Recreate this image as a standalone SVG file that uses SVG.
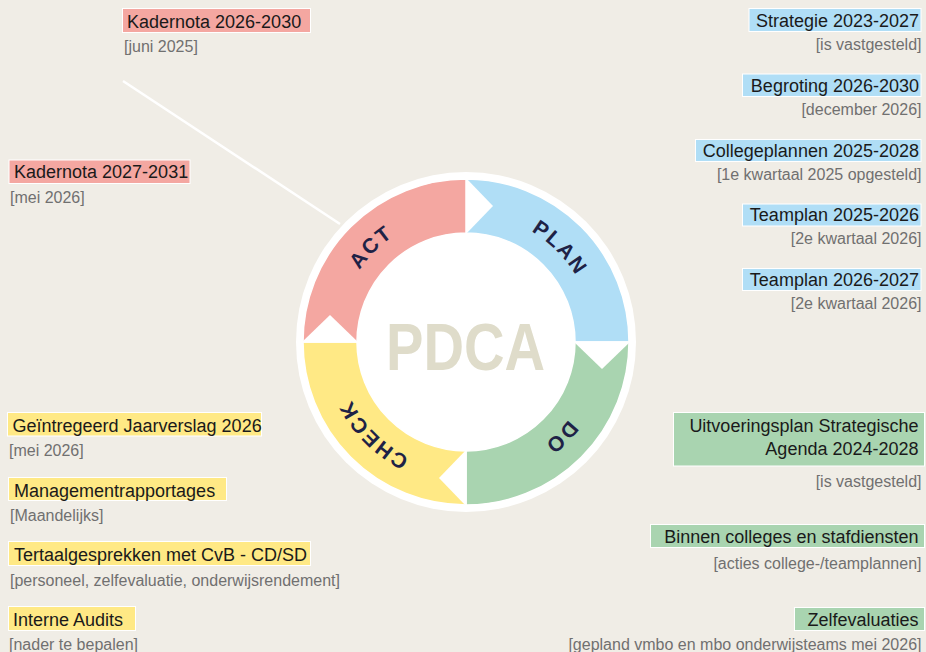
<svg xmlns="http://www.w3.org/2000/svg" width="926" height="652" viewBox="0 0 926 652">
<defs>
<style>
.t{font-family:"Liberation Sans",Arial,sans-serif;font-size:18px;fill:#1a1a1a}
.s{font-family:"Liberation Sans",Arial,sans-serif;font-size:16px;fill:#707070}
.e{text-anchor:end}
.bx{stroke:#ffffff;stroke-width:1}
.pink{fill:#F4A7A1}
.blue{fill:#B0DEF6}
.green{fill:#A9D4B0}
.yellow{fill:#FFE985}
.seg{stroke:#ffffff;stroke-width:1.5}
.ring{font-family:"Liberation Sans",Arial,sans-serif;font-weight:bold;font-size:21px;fill:#1E2246;letter-spacing:2px}
</style>
<path id="arc" d="M 466,213.5 A 128.5 128.5 0 0 1 466,470.5 A 128.5 128.5 0 0 1 466,213.5"/>
</defs>
<rect width="926" height="652" fill="#F0EDE6"/>

<g id="connectors">
<line x1="123" y1="81" x2="340" y2="224" stroke="#ffffff" stroke-width="2.5"/>
</g>

<g id="pdca-cycle">
<circle cx="466" cy="342" r="170" fill="#ffffff"/>
<g id="plan">
<path class="seg blue" d="M 466,179 A 163 163 0 0 1 629,342 L 575,342 A 109 109 0 0 0 466,233 Z"/>
<text class="ring" text-anchor="middle"><textPath href="#arc" startOffset="12.5%">PLAN</textPath></text>
</g>
<g id="do">
<path class="seg green" d="M 629,342 A 163 163 0 0 1 466,505 L 466,451 A 109 109 0 0 0 575,342 Z"/>
<text class="ring" text-anchor="middle"><textPath href="#arc" startOffset="37.5%">DO</textPath></text>
</g>
<g id="check">
<path class="seg yellow" d="M 466,505 A 163 163 0 0 1 303,342 L 357,342 A 109 109 0 0 0 466,451 Z"/>
<text class="ring" text-anchor="middle"><textPath href="#arc" startOffset="62.5%">CHECK</textPath></text>
</g>
<g id="act">
<path class="seg pink" d="M 303,342 A 163 163 0 0 1 466,179 L 466,233 A 109 109 0 0 0 357,342 Z"/>
<text class="ring" text-anchor="middle"><textPath href="#arc" startOffset="87.5%">ACT</textPath></text>
</g>
<g id="notches" fill="#ffffff">
<polygon points="466,178 493,206 466,234"/>
<polygon points="630,342 602,369 574,342"/>
<polygon points="466,506 439,478 466,450"/>
<polygon points="302,342 330,315 358,342"/>
</g>
<text id="pdca-title" x="465.5" y="370" text-anchor="middle" textLength="159" lengthAdjust="spacingAndGlyphs" font-family="Liberation Sans, Arial, sans-serif" font-weight="bold" font-size="67" fill="#DFDCCA">PDCA</text>
</g>

<g id="kadernota-2026">
<rect class="bx pink" x="122.5" y="8.5" width="188" height="24"/>
<text class="t" x="127" y="27.5">Kadernota 2026-2030</text>
<text class="s" x="124" y="52">[juni 2025]</text>
</g>
<g id="kadernota-2027">
<rect class="bx pink" x="9" y="160" width="181" height="23.5"/>
<text class="t" x="14" y="178">Kadernota 2027-2031</text>
<text class="s" x="10" y="203">[mei 2026]</text>
</g>

<g id="strategie">
<rect class="bx blue" x="749" y="8.5" width="172" height="23"/>
<text class="t e" x="919" y="27">Strategie 2023-2027</text>
<text class="s e" x="921.5" y="50">[is vastgesteld]</text>
</g>
<g id="begroting">
<rect class="bx blue" x="742.5" y="74" width="178.5" height="22.5"/>
<text class="t e" x="919" y="91.5">Begroting 2026-2030</text>
<text class="s e" x="921.5" y="115">[december 2026]</text>
</g>
<g id="collegeplannen">
<rect class="bx blue" x="695.5" y="139.5" width="225.5" height="22"/>
<text class="t e" x="919" y="156.5">Collegeplannen 2025-2028</text>
<text class="s e" x="921.5" y="180">[1e kwartaal 2025 opgesteld]</text>
</g>
<g id="teamplan-2025">
<rect class="bx blue" x="742.5" y="204" width="178.5" height="22"/>
<text class="t e" x="919" y="221">Teamplan 2025-2026</text>
<text class="s e" x="921.5" y="243.5">[2e kwartaal 2026]</text>
</g>
<g id="teamplan-2026">
<rect class="bx blue" x="742.5" y="268.5" width="178.5" height="22"/>
<text class="t e" x="919" y="285.5">Teamplan 2026-2027</text>
<text class="s e" x="921.5" y="308.5">[2e kwartaal 2026]</text>
</g>

<g id="uitvoeringsplan">
<rect class="bx green" x="673.5" y="412.5" width="251" height="53.5"/>
<text class="t e" x="918.5" y="432">Uitvoeringsplan Strategische</text>
<text class="t e" x="918.5" y="455">Agenda 2024-2028</text>
<text class="s e" x="921.5" y="487">[is vastgesteld]</text>
</g>
<g id="binnen-colleges">
<rect class="bx green" x="650.5" y="524.5" width="274" height="23"/>
<text class="t e" x="918.5" y="542.5">Binnen colleges en stafdiensten</text>
<text class="s e" x="921.5" y="569">[acties college-/teamplannen]</text>
</g>
<g id="zelfevaluaties">
<rect class="bx green" x="794.5" y="607.5" width="130" height="23"/>
<text class="t e" x="918.5" y="625.5">Zelfevaluaties</text>
<text class="s e" x="921.5" y="650">[gepland vmbo en mbo onderwijsteams mei 2026]</text>
</g>

<g id="jaarverslag">
<rect class="bx yellow" x="7.5" y="412.5" width="254" height="23.5"/>
<text class="t" x="12.5" y="431.5">Geïntregeerd Jaarverslag 2026</text>
<text class="s" x="9" y="456">[mei 2026]</text>
</g>
<g id="managementrapportages">
<rect class="bx yellow" x="8.5" y="477.5" width="218" height="23"/>
<text class="t" x="14" y="496.5">Managementrapportages</text>
<text class="s" x="10" y="520.5">[Maandelijks]</text>
</g>
<g id="tertaalgesprekken">
<rect class="bx yellow" x="8.5" y="541.5" width="302" height="24"/>
<text class="t" x="14" y="561">Tertaalgesprekken met CvB - CD/SD</text>
<text class="s" x="10" y="585.5">[personeel, zelfevaluatie, onderwijsrendement]</text>
</g>
<g id="interne-audits">
<rect class="bx yellow" x="8.5" y="606.5" width="127" height="24"/>
<text class="t" x="13" y="625.5">Interne Audits</text>
<text class="s" x="9" y="650">[nader te bepalen]</text>
</g>
</svg>
